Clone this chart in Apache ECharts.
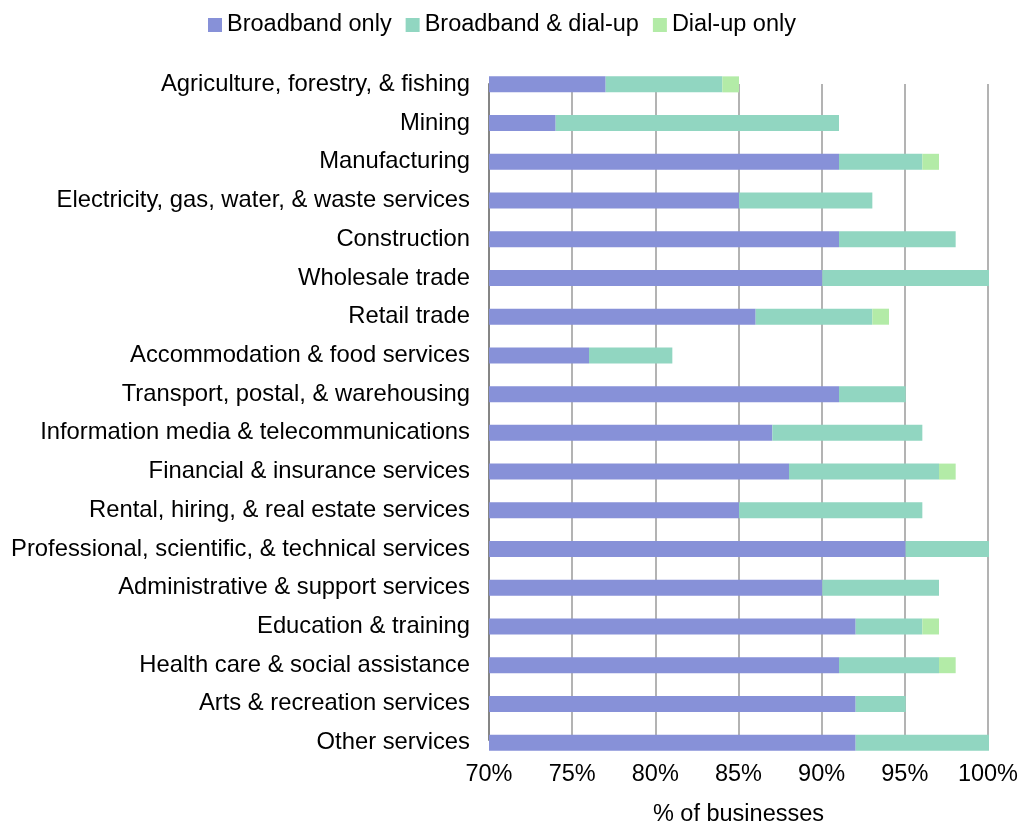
<!DOCTYPE html>
<html>
<head>
<meta charset="utf-8">
<script src="https://cdn.jsdelivr.net/npm/echarts@6/dist/echarts.min.js"></script>
<style>
  html, body { margin: 0; padding: 0; background: #ffffff; }
  #chart { width: 1021px; height: 832px; }
</style>
</head>
<body>
<div id="chart"></div>
<script>
// Industry categories, top to bottom
const industries = [
  'Agriculture, forestry, & fishing',
  'Mining',
  'Manufacturing',
  'Electricity, gas, water, & waste services',
  'Construction',
  'Wholesale trade',
  'Retail trade',
  'Accommodation & food services',
  'Transport, postal, & warehousing',
  'Information media & telecommunications',
  'Financial & insurance services',
  'Rental, hiring, & real estate services',
  'Professional, scientific, & technical services',
  'Administrative & support services',
  'Education & training',
  'Health care & social assistance',
  'Arts & recreation services',
  'Other services'
];

// Share of businesses (%) by type of internet connection
const broadbandOnly   = [77, 74, 91, 85, 91, 90, 86, 76, 91, 87, 88, 85, 95, 90, 92, 91, 92, 92];
const broadbandDialup = [ 7, 17,  5,  8,  7, 10,  7,  5,  4,  9,  9, 11,  5,  7,  4,  6,  3,  8];
const dialupOnly      = [ 1,  0,  1,  0,  0,  0,  1,  0,  0,  0,  1,  0,  0,  0,  1,  1,  0,  0];

const seriesNames = ['Broadband only', 'Broadband & dial-up', 'Dial-up only'];
const axisMin = 70, axisMax = 100, axisStep = 5;

const FONT = '"Liberation Sans", Arial, sans-serif';
const FS = 23.5;
const colors = ['#8791d8', '#91d6c1', '#b3eba7'];

const chart = echarts.init(document.getElementById('chart'));

const barSeries = [broadbandOnly, broadbandDialup, dialupOnly].map((vals, i) => ({
  name: seriesNames[i],
  type: 'bar',
  stack: 'share',
  xAxisIndex: 1,
  yAxisIndex: 1,
  barWidth: 16,
  itemStyle: { color: colors[i] },
  emphasis: { disabled: true },
  data: vals
}));

chart.setOption({
  animation: false,
  textStyle: { fontFamily: FONT },
  color: colors,
  legend: {
    top: 8,
    left: 203,
    itemWidth: 14,
    itemHeight: 14,
    itemGap: 14,
    icon: 'rect',
    textStyle: { fontSize: FS, color: '#000', fontFamily: FONT },
    data: seriesNames
  },
  grid: [
    // gridline frame spans from the first to the last category centre
    { left: 489, right: 32, top: 84, bottom: 88 },
    // bar area with one band per category
    { left: 489, right: 32, top: 65, bottom: 70 }
  ],
  xAxis: [
    {
      gridIndex: 0,
      type: 'value',
      min: axisMin,
      max: axisMax,
      interval: axisStep,
      axisLine: { show: false },
      axisTick: { show: false },
      axisLabel: {
        formatter: '{value}%',
        fontSize: FS,
        color: '#000',
        margin: 23,
        fontFamily: FONT
      },
      splitLine: { show: true, lineStyle: { color: '#b3b3b3', width: 2 } },
      name: '% of businesses',
      nameLocation: 'middle',
      nameGap: 63,
      nameTextStyle: { fontSize: FS, color: '#000', fontFamily: FONT }
    },
    {
      gridIndex: 1,
      type: 'value',
      min: axisMin,
      max: axisMax,
      interval: axisStep,
      show: false
    }
  ],
  yAxis: [
    {
      gridIndex: 0,
      type: 'value',
      axisLine: { show: true, onZero: false, lineStyle: { color: '#858585', width: 2 } },
      axisTick: { show: false },
      axisLabel: { show: false },
      splitLine: { show: false }
    },
    {
      gridIndex: 1,
      type: 'category',
      inverse: true,
      data: industries,
      axisLine: { show: false },
      axisTick: { show: false },
      axisLabel: { fontSize: 23.8, color: '#000', margin: 19, fontFamily: FONT }
    }
  ],
  series: barSeries
});
</script>
</body>
</html>
